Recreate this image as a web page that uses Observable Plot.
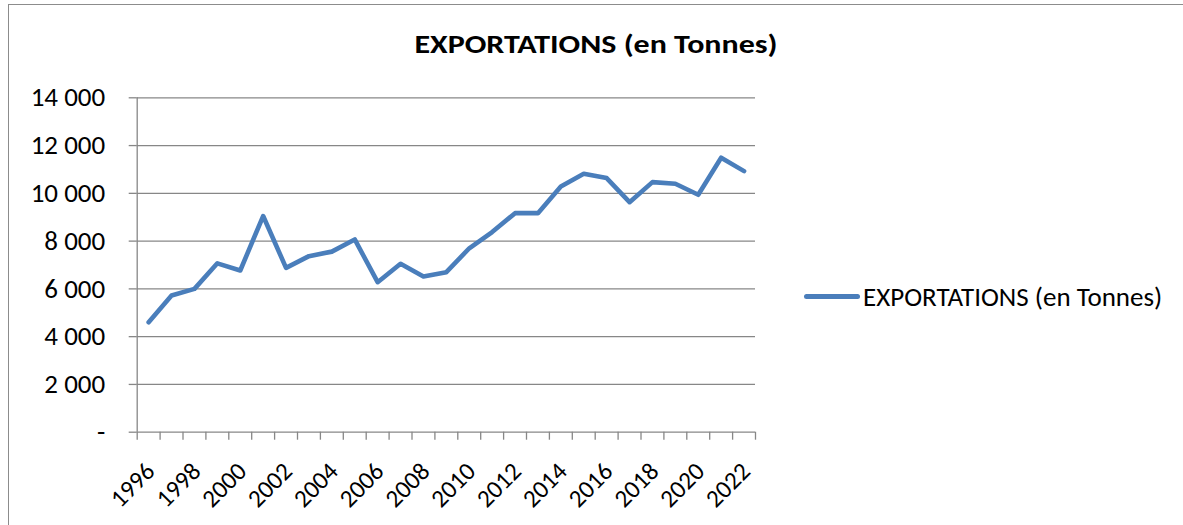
<!DOCTYPE html>
<html>
<head>
<meta charset="utf-8">
<script src="https://cdn.jsdelivr.net/npm/d3@7"></script>
<script src="https://cdn.jsdelivr.net/npm/@observablehq/plot@0.6"></script>
<style>
  body { margin: 0; background: #fff; font-family: Carlito, Lato, sans-serif; }
  #wrap { position: relative; width: 1183px; height: 525px; overflow: hidden; background: #fff; }
  #frame { position: absolute; left: 8px; top: 4px; width: 1200px; height: 560px; border: 1.5px solid #8c8c8c; box-sizing: border-box; }
  #title { position: absolute; left: 596px; top: 31px; transform: translateX(-50%) scaleX(1.23); white-space: nowrap;
           font-weight: bold; font-size: 26px; color: #000; line-height: 1; }
  #chart { position: absolute; left: 0; top: 0; }
  #legend { position: absolute; left: 804px; top: 283px; display: flex; align-items: center; white-space: nowrap; }
  #legend .sw { width: 56px; height: 5px; border-radius: 3px; background: #4A7EBB; margin-right: 3px; }
  #legend .lb { font-size: 27px; color: #000; line-height: 1; }
</style>
</head>
<body>
<div id="wrap">
  <div id="frame"></div>
  <div id="chart"></div>
  <div id="title">EXPORTATIONS (en Tonnes)</div>
  <div id="legend"><div class="sw"></div><div class="lb">EXPORTATIONS (en Tonnes)</div></div>
</div>
<script>
const seriesName = "EXPORTATIONS (en Tonnes)";
const years = [1996, 1997, 1998, 1999, 2000, 2001, 2002, 2003, 2004, 2005, 2006, 2007, 2008, 2009,
               2010, 2011, 2012, 2013, 2014, 2015, 2016, 2017, 2018, 2019, 2020, 2021, 2022];
const exportsT = [4600, 5720, 6000, 7070, 6770, 9050, 6880, 7370, 7560, 8070, 6280, 7050, 6520, 6700,
                  7700, 8380, 9170, 9170, 10290, 10820, 10640, 9630, 10470, 10400, 9940, 11490, 10930];
const yTicks = [0, 2000, 4000, 6000, 8000, 10000, 12000, 14000];
const yTickLabels = ["-", "2 000", "4 000", "6 000", "8 000", "10 000", "12 000", "14 000"];
const xLabelYears = [1996, 1998, 2000, 2002, 2004, 2006, 2008, 2010, 2012, 2014, 2016, 2018, 2020, 2022];

const data = years.map((y, i) => ({year: y, value: exportsT[i]}));
const bounds = years.map(y => y - 0.5).concat([years[years.length - 1] + 0.5]);
const gridColor = "#878787";
const fontFam = "Carlito, Lato, sans-serif";

const chart = Plot.plot({
  width: 1183,
  height: 525,
  marginLeft: 136.7,
  marginRight: 428,
  marginTop: 97.3,
  marginBottom: 93.3,
  style: {fontFamily: fontFam, background: "transparent", color: "#000"},
  x: {type: "linear", domain: [bounds[0], bounds[bounds.length - 1]]},
  y: {type: "linear", domain: [0, 14000]},
  marks: [
    Plot.gridY(yTicks, {stroke: gridColor, strokeOpacity: 1, strokeWidth: 1.3}),
    Plot.axisY(yTicks, {tickSize: 8, tickPadding: 24, stroke: gridColor, strokeWidth: 1.3,
                        tickFormat: d => yTickLabels[yTicks.indexOf(d)], fontSize: 27, fill: "#000", label: null}),
    Plot.ruleX([bounds[0]], {y1: 0, y2: 14000, stroke: gridColor, strokeWidth: 1.3}),
    Plot.axisX(bounds, {tickSize: 8, stroke: gridColor, strokeWidth: 1.3, tickFormat: () => "", label: null}),
    Plot.text(xLabelYears, {x: d => d, y: 0, dx: 2, dy: 35, rotate: -45, textAnchor: "end", lineAnchor: "middle",
                            text: d => String(d), fontSize: 25, fill: "#000"}),
    Plot.line(data, {x: "year", y: "value", stroke: "#4A7EBB", strokeWidth: 4.6,
                     strokeLinecap: "round", strokeLinejoin: "round"})
  ]
});
document.getElementById("chart").appendChild(chart);
</script>
</body>
</html>
